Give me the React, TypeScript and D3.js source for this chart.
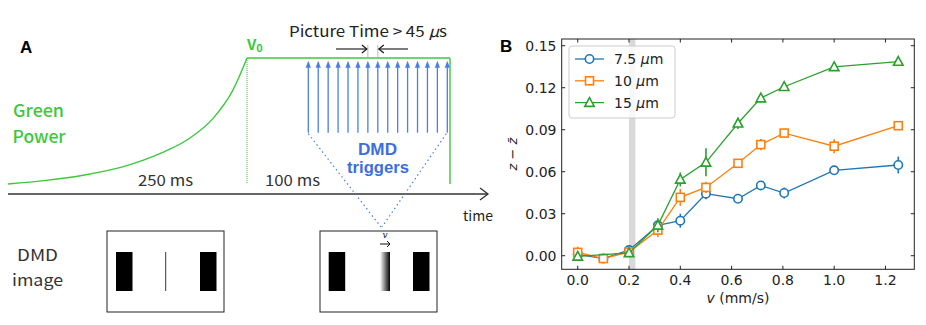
// Figure: A = schéma de séquence DMD, B = z − z̄ en fonction de v
import * as d3 from 'd3';

const W = 926;
const H = 325;

// ── Panel A : schéma (temps en ms, puissance relative à V0) ─────────
const RAMP_T = [0, 40, 80, 120, 160, 190, 215, 235, 250];
const RAMP_P = [0.074, 0.1, 0.14, 0.2, 0.3, 0.41, 0.56, 0.76, 1];
const PLATEAU_T = [250, 350];
const TRIGGERS = [1, 2, 3, 4, 5, 6, 7, 8, 9, 10, 11, 12, 13, 14, 15];

// ── Panel B : données ─────────
const X_TICKS = [0, 0.2, 0.4, 0.6, 0.8, 1.0, 1.2];
const Y_TICKS = [0, 0.03, 0.06, 0.09, 0.12, 0.15];
const BAND = [0.2, 0.225];

const V_75 = [0, 0.1, 0.2, 0.3125, 0.4, 0.5, 0.625, 0.714, 0.805, 1.0, 1.25];
const Z_75 = [0.001, -0.002, 0.004, 0.0217, 0.025, 0.0443, 0.0407, 0.0502, 0.0448, 0.061, 0.0648];
const E_75 = [0.002, 0.002, 0.002, 0.002, 0.005, 0.004, 0.002, 0.002, 0.004, 0.002, 0.006];

const V_10 = [0, 0.1, 0.2, 0.3125, 0.4, 0.5, 0.625, 0.714, 0.805, 1.0, 1.25];
const Z_10 = [0.0024, -0.002, 0.0026, 0.0183, 0.0417, 0.0488, 0.066, 0.0794, 0.0876, 0.0782, 0.0929];
const E_10 = [0.004, 0.002, 0.002, 0.005, 0.006, 0.004, 0.002, 0.004, 0.003, 0.005, 0.003];

const V_15 = [0, 0.2, 0.3125, 0.4, 0.5, 0.625, 0.714, 0.805, 1.0, 1.25];
const Z_15 = [-0.0005, 0.002, 0.0217, 0.0545, 0.0667, 0.0946, 0.1126, 0.1207, 0.1349, 0.1387];
const E_15 = [0.002, 0.002, 0.005, 0.005, 0.01, 0.004, 0.003, 0.003, 0.002, 0.003];

const SERIES = [
  { label: '7.5 ', v: V_75, z: Z_75, e: E_75, color: '#1f77b4', marker: 'circle' },
  { label: '10 ', v: V_10, z: Z_10, e: E_10, color: '#ff7f0e', marker: 'square' },
  { label: '15 ', v: V_15, z: Z_15, e: E_15, color: '#2ca02c', marker: 'triangle' },
];

const GREEN = '#3cc83c';
const BLUE = '#4a7ee8';
const JP = '"Noto Sans CJK JP", "Noto Sans", sans-serif';
const MPL = '"DejaVu Sans", sans-serif';

function Marker({ type, x, y, color }: { type: string; x: number; y: number; color: string }) {
  const common = { fill: 'white', stroke: color, strokeWidth: 1.6 };
  if (type === 'circle') return <circle cx={x} cy={y} r={4.2} {...common} />;
  if (type === 'square') return <rect x={x - 4} y={y - 4} width={8} height={8} {...common} />;
  const s = 5;
  return <path d={`M${x},${y - s}L${x + s * 0.95},${y + s * 0.75}L${x - s * 0.95},${y + s * 0.75}Z`} {...common} />;
}

function PanelA() {
  const tx = d3.scaleLinear().domain([0, 250, 350]).range([8, 247, 450]);
  const py = d3.scaleLinear().domain([0, 1]).range([194, 58]);
  const trig = d3.scalePoint<number>().domain(TRIGGERS).range([308.3, 447.3]);

  const ramp = d3.line<number>()
    .x((_, i) => tx(RAMP_T[i]))
    .y(d => py(d))
    .curve(d3.curveMonotoneX)(RAMP_P) ?? '';

  const x0 = tx(PLATEAU_T[0]);
  const x1 = tx(PLATEAU_T[1]);
  const yTop = py(1);
  const yBase = py(0.074);
  const axisY = py(0);
  const trigTop = 60.7;
  const trigBot = 132.7;
  const first = trig(TRIGGERS[0]) ?? 0;
  const last = trig(TRIGGERS[TRIGGERS.length - 1]) ?? 0;
  const mid6 = trig(TRIGGERS[6]) ?? 0;
  const mid7 = trig(TRIGGERS[7]) ?? 0;
  const meet = { x: 381, y: 227 };

  return (
    <g>
      <text x={20} y={53} fontFamily="Liberation Sans, Arial, sans-serif" fontWeight="bold" fontSize={17}>A</text>

      {/* puissance verte */}
      <path d={ramp} fill="none" stroke={GREEN} strokeWidth={1.4} />
      <line x1={x0} x2={x1} y1={yTop} y2={yTop} stroke={GREEN} strokeWidth={1.4} />
      <line x1={x1} x2={x1} y1={yTop} y2={yBase} stroke={GREEN} strokeWidth={1.4} />
      <line x1={x0} x2={x0} y1={yTop} y2={yBase} stroke={GREEN} strokeWidth={1} strokeDasharray="1,1" />

      <text x={13} y={117} fill={GREEN} fontFamily={JP} fontSize={17} fontWeight={500} textLength={51} lengthAdjust="spacingAndGlyphs">Green</text>
      <text x={12.5} y={143} fill={GREEN} fontFamily={JP} fontSize={17} fontWeight={500} textLength={53} lengthAdjust="spacingAndGlyphs">Power</text>
      <text x={247} y={50} fill={GREEN} fontFamily={JP} fontSize={15} fontWeight="bold">V<tspan fontSize={11} dy={2}>0</tspan></text>

      {/* axe du temps */}
      <line x1={8} x2={488} y1={axisY} y2={axisY} stroke="#333" strokeWidth={1.5} />
      <path d={`M${480},${axisY - 6}L${488},${axisY}L${480},${axisY + 6}`} fill="none" stroke="#333" strokeWidth={1.3} />
      <text x={463} y={221} fill="#222" fontFamily={JP} fontSize={14} textLength={30} lengthAdjust="spacingAndGlyphs">time</text>
      <text x={138} y={186} fill="#333" fontFamily={JP} fontSize={15} textLength={55} lengthAdjust="spacingAndGlyphs">250 ms</text>
      <text x={265} y={186} fill="#333" fontFamily={JP} fontSize={15} textLength={55} lengthAdjust="spacingAndGlyphs">100 ms</text>

      {/* Picture time */}
      <text x={289} y={37} fill="#222" fontFamily={JP} fontSize={15} textLength={158} lengthAdjust="spacingAndGlyphs">Picture Time &gt; 45 <tspan fontStyle="italic">μ</tspan>s</text>
      <line x1={mid6} x2={mid6} y1={45} y2={yTop} stroke="#aaa" strokeWidth={0.8} />
      <line x1={mid7} x2={mid7} y1={45} y2={yTop} stroke="#aaa" strokeWidth={0.8} />
      <line x1={336} x2={mid6 - 1} y1={49} y2={49} stroke="#111" strokeWidth={1.1} />
      <path d={`M${mid6 - 6},${45}L${mid6 - 1},${49}L${mid6 - 6},${53}`} fill="none" stroke="#111" strokeWidth={1.1} />
      <line x1={408} x2={mid7 + 1} y1={49} y2={49} stroke="#111" strokeWidth={1.1} />
      <path d={`M${mid7 + 6},${45}L${mid7 + 1},${49}L${mid7 + 6},${53}`} fill="none" stroke="#111" strokeWidth={1.1} />

      {/* déclencheurs DMD */}
      {TRIGGERS.map(t => {
        const x = trig(t) ?? 0;
        return (
          <g key={t}>
            <line x1={x} x2={x} y1={trigTop + 5} y2={trigBot} stroke={BLUE} strokeWidth={1.3} />
            <path d={`M${x},${trigTop}L${x + 2.6},${trigTop + 7}L${x - 2.6},${trigTop + 7}Z`} fill={BLUE} />
          </g>
        );
      })}
      <line x1={first} y1={trigBot + 1} x2={meet.x} y2={meet.y} stroke={BLUE} strokeWidth={1.2} strokeDasharray="1.5,3" />
      <line x1={last - 1} y1={trigBot + 1} x2={meet.x + 1} y2={meet.y} stroke={BLUE} strokeWidth={1.2} strokeDasharray="1.5,3" />
      <text x={358} y={155} fill="#3b6fe0" fontFamily="Liberation Sans, Arial, sans-serif" fontSize={16} fontWeight="bold" textLength={39} lengthAdjust="spacingAndGlyphs">DMD</text>
      <text x={347} y={173} fill="#3b6fe0" fontFamily="Liberation Sans, Arial, sans-serif" fontSize={16} fontWeight="bold" textLength={62} lengthAdjust="spacingAndGlyphs">triggers</text>

      {/* images DMD */}
      <defs>
        <linearGradient id="grad" x1="0" x2="1" y1="0" y2="0">
          <stop offset="0" stopColor="#fff" />
          <stop offset="1" stopColor="#000" />
        </linearGradient>
      </defs>
      <text x={17} y={261} fill="#333" fontFamily={JP} fontSize={16} textLength={41} lengthAdjust="spacingAndGlyphs">DMD</text>
      <text x={12} y={286} fill="#333" fontFamily={JP} fontSize={16} textLength={51} lengthAdjust="spacingAndGlyphs">image</text>

      <rect x={107} y={231} width={117} height={81} fill="none" stroke="#222" strokeWidth={1} />
      <rect x={116} y={252} width={16.5} height={39} fill="#000" />
      <rect x={200} y={252} width={16.5} height={39} fill="#000" />
      <line x1={165.7} x2={165.7} y1={252} y2={291} stroke="#222" strokeWidth={0.9} />

      <rect x={320} y={231} width={117} height={81} fill="none" stroke="#222" strokeWidth={1} />
      <rect x={328.7} y={252} width={16.5} height={39} fill="#000" />
      <rect x={380} y={252} width={10} height={39} fill="url(#grad)" />
      <rect x={413} y={252} width={16.5} height={39} fill="#000" />
      <text x={385} y={238} textAnchor="middle" fill="#111" fontFamily="DejaVu Serif, serif" fontStyle="italic" fontSize={9}>v</text>
      <line x1={380} x2={390} y1={244} y2={244} stroke="#111" strokeWidth={1} />
      <path d={`M387,241L390,244L387,247`} fill="none" stroke="#111" strokeWidth={1} />
    </g>
  );
}

function PanelB() {
  const L = 561.7, R = 914.3, T = 39, B = 269.3;
  const x = d3.scaleLinear().domain([-0.0625, 1.3125]).range([L, R]);
  const y = d3.scaleLinear().domain([-0.0097, 0.1548]).range([B, T]);
  const tick = 3.5;

  return (
    <g fontFamily={MPL}>
      <text x={500} y={52} fontFamily="Liberation Sans, Arial, sans-serif" fontWeight="bold" fontSize={17}>B</text>

      <rect x={x(BAND[0])} y={T} width={x(BAND[1]) - x(BAND[0])} height={B - T} fill="#d9d9d9" />

      {SERIES.map(s => {
        const pts = s.v.map((v, i) => [x(v), y(s.z[i])] as [number, number]);
        return (
          <g key={s.label}>
            {s.v.map((v, i) => (
              <line key={i} x1={x(v)} x2={x(v)} y1={y(s.z[i] - s.e[i])} y2={y(s.z[i] + s.e[i])}
                stroke={s.color} strokeWidth={1.6} />
            ))}
            <path d={d3.line()(pts) ?? ''} fill="none" stroke={s.color} strokeWidth={1.3} />
            {pts.map((p, i) => <Marker key={i} type={s.marker} x={p[0]} y={p[1]} color={s.color} />)}
          </g>
        );
      })}

      <rect x={L} y={T} width={R - L} height={B - T} fill="none" stroke="#222" strokeWidth={1} />
      {X_TICKS.map(t => (
        <g key={t}>
          <line x1={x(t)} x2={x(t)} y1={B} y2={B - tick} stroke="#222" />
          <line x1={x(t)} x2={x(t)} y1={T} y2={T + tick} stroke="#222" />
          <text x={x(t)} y={285} textAnchor="middle" fontSize={14} fill="#222">{t.toFixed(1)}</text>
        </g>
      ))}
      {Y_TICKS.map(t => (
        <g key={t}>
          <line x1={L} x2={L + tick} y1={y(t)} y2={y(t)} stroke="#222" />
          <line x1={R} x2={R - tick} y1={y(t)} y2={y(t)} stroke="#222" />
          <text x={556.5} y={y(t) + 5} textAnchor="end" fontSize={14} fill="#222">{t.toFixed(2)}</text>
        </g>
      ))}

      <text x={738} y={303} textAnchor="middle" fontSize={14} fill="#222">
        <tspan fontStyle="italic">v</tspan> (mm/s)
      </text>
      <g transform={`translate(517,${(T + B) / 2}) rotate(-90)`}>
        <text textAnchor="middle" fontSize={13} fill="#222" fontStyle="italic">
          z − z̄
        </text>
      </g>

      {/* légende */}
      <rect x={569} y={46} width={106} height={72} rx={3} fill="white" fillOpacity={0.8} stroke="#ccc" strokeWidth={1} />
      {SERIES.map((s, i) => {
        const ly = 59 + i * 21.8;
        return (
          <g key={s.label}>
            <line x1={575} x2={604} y1={ly} y2={ly} stroke={s.color} strokeWidth={1.3} />
            <line x1={589.5} x2={589.5} y1={ly - 4.5} y2={ly + 4.5} stroke={s.color} strokeWidth={1.6} />
            <Marker type={s.marker} x={589.5} y={ly} color={s.color} />
            <text x={614} y={ly + 5} fontSize={14} fill="#222">
              {s.label}<tspan fontStyle="italic">μ</tspan>m
            </text>
          </g>
        );
      })}
    </g>
  );
}

export default function App() {
  return (
    <div style={{ position: 'fixed', left: 0, top: 0, width: W, height: H, background: 'white' }}>
      <svg width={W} height={H} style={{ display: 'block' }}>
        <PanelA />
        <PanelB />
      </svg>
    </div>
  );
}
